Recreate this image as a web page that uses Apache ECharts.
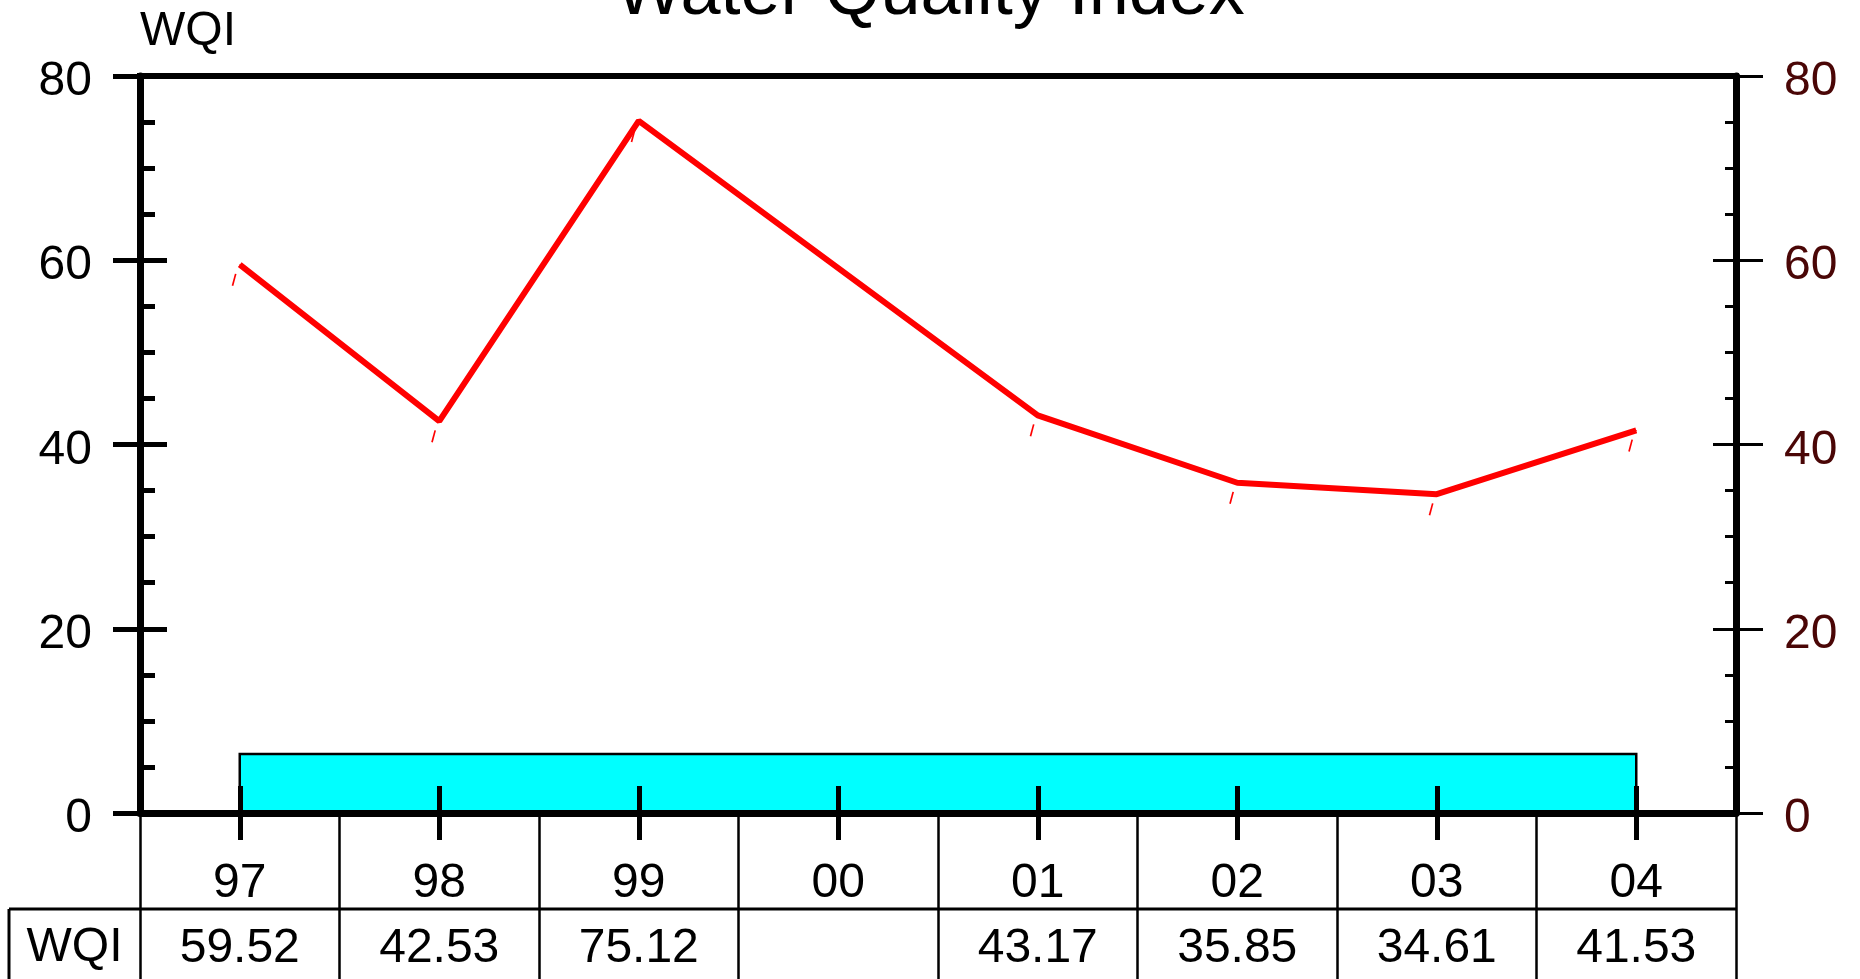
<!DOCTYPE html>
<html>
<head>
<meta charset="utf-8">
<script src="https://cdn.jsdelivr.net/npm/echarts@6/dist/echarts.min.js"></script>
<style>
html,body{margin:0;padding:0;background:#fff;}
#chart{width:1860px;height:979px;}
</style>
</head>
<body>
<div id="chart"></div>
<script>
// ---- data ----
const categories = ['97', '98', '99', '00', '01', '02', '03', '04'];
const wqiValues = [59.52, 42.53, 75.12, null, 43.17, 35.85, 34.61, 41.53];
const yTicks = [0, 20, 40, 60, 80];
const bandStart = '97';
const bandEnd = '04';
const bandHeight = 6.4;
const titleText = 'Water Quality Index';
const seriesName = 'WQI';

// ---- layout ----
const FONT = "'Liberation Sans', Arial, sans-serif";
const gridLeft = 140, gridRight = 124, gridTop = 76, gridBottom = 166;
const W = 1860, H = 979;
const axisY = H - gridBottom;

const chart = echarts.init(document.getElementById('chart'), null, {renderer: 'canvas'});

const baseY = {
  type: 'value', min: yTicks[0], max: yTicks[yTicks.length - 1], interval: yTicks[1] - yTicks[0],
  splitLine: {show: false}
};

const option = {
  animation: false,
  backgroundColor: '#fff',
  title: {
    text: titleText, left: 'center', top: -47,
    textStyle: {fontFamily: FONT, fontSize: 72, fontWeight: 'normal', color: '#000'}
  },
  grid: {left: gridLeft, right: gridRight, top: gridTop, bottom: gridBottom,
    show: true, borderColor: '#000', borderWidth: 6, backgroundColor: 'transparent'},
  xAxis: [
    {
      type: 'category', data: categories, position: 'bottom', boundaryGap: true, z: 10,
      axisLine: {show: true, lineStyle: {color: '#000', width: 7}},
      axisTick: {show: true, alignWithLabel: true, interval: 0, length: 27, lineStyle: {color: '#000', width: 5}},
      axisLabel: {interval: 0, margin: 47, fontFamily: FONT, fontSize: 48, color: '#000'},
      splitLine: {show: false}
    },
    {
      type: 'category', data: categories, position: 'bottom', boundaryGap: true, z: 10,
      axisLine: {show: false},
      axisTick: {show: true, inside: true, alignWithLabel: true, interval: 0, length: 27, lineStyle: {color: '#000', width: 5}},
      axisLabel: {show: false},
      splitLine: {show: false}
    },
    {
      type: 'category', data: categories, position: 'bottom', boundaryGap: true, z: 10,
      axisLine: {show: false},
      axisTick: {show: true, alignWithLabel: false, interval: 0, length: 170, lineStyle: {color: '#000', width: 2.5}},
      axisLabel: {interval: 0, margin: 112, fontFamily: FONT, fontSize: 48, color: '#000',
        formatter: function (v, i) { const x = wqiValues[i]; return x == null ? '' : x.toFixed(2); }},
      splitLine: {show: false}
    }
  ],
  yAxis: [
    Object.assign({}, baseY, {
      position: 'left', z: 10,
      name: seriesName, nameLocation: 'end', nameGap: 20,
      nameTextStyle: {fontFamily: FONT, fontSize: 48, color: '#000', align: 'left'},
      axisLine: {show: true, lineStyle: {color: '#000', width: 7}},
      axisTick: {show: true, inside: true, length: 27, lineStyle: {color: '#000', width: 5}},
      minorTick: {show: true, splitNumber: 4, length: 15, lineStyle: {color: '#000', width: 5}},
      axisLabel: {margin: 48, fontFamily: FONT, fontSize: 48, color: '#000', verticalAlign: 'top', lineHeight: 12}
    }),
    Object.assign({}, baseY, {
      position: 'left', z: 10,
      axisLine: {show: false},
      axisTick: {show: true, inside: false, length: 27, lineStyle: {color: '#000', width: 5}},
      axisLabel: {show: false}
    }),
    Object.assign({}, baseY, {
      position: 'right', z: 10,
      axisLine: {show: true, lineStyle: {color: '#000', width: 7}},
      axisTick: {show: true, inside: false, length: 27, lineStyle: {color: '#000', width: 3}},
      axisLabel: {margin: 48, fontFamily: FONT, fontSize: 48, color: '#4a0606', verticalAlign: 'top', lineHeight: 12}
    }),
    Object.assign({}, baseY, {
      position: 'right', z: 10,
      axisLine: {show: false},
      axisTick: {show: true, inside: true, length: 23, lineStyle: {color: '#000', width: 3}},
      minorTick: {show: true, splitNumber: 4, length: 11, lineStyle: {color: '#000', width: 3}},
      axisLabel: {show: false}
    })
  ],
  graphic: [
    {type: 'line', silent: true, z: 20,
      shape: {x1: 9, y1: axisY + 96, x2: W - gridRight + 1, y2: axisY + 96},
      style: {stroke: '#000', lineWidth: 3}},
    {type: 'line', silent: true, z: 20,
      shape: {x1: 9, y1: axisY + 96, x2: 9, y2: H},
      style: {stroke: '#000', lineWidth: 3}},
    {type: 'text', silent: true, z: 20,
      x: (9 + gridLeft) / 2, y: axisY + 135,
      style: {text: seriesName, fontFamily: FONT, fontSize: 48, fill: '#000',
        textAlign: 'center', textVerticalAlign: 'middle'}}
  ],
  series: [
    {
      name: seriesName, type: 'line', xAxisIndex: 0, yAxisIndex: 0,
      data: wqiValues, connectNulls: true, z: 5,
      symbol: 'circle', symbolSize: 1, showSymbol: true,
      itemStyle: {color: '#ff0000'},
      lineStyle: {color: '#ff0000', width: 6},
      label: {show: true, position: 'bottom', distance: 9, offset: [-4, 0], rotate: -15,
        formatter: '|', fontFamily: FONT, fontSize: 13, fontWeight: 'bold', color: '#ff0000'},
      markArea: {
        silent: true,
        itemStyle: {color: '#00ffff', borderColor: '#000', borderWidth: 2.5},
        data: [[{xAxis: bandStart, yAxis: 0}, {xAxis: bandEnd, yAxis: bandHeight}]]
      }
    }
  ]
};
chart.setOption(option);
</script>
</body>
</html>
